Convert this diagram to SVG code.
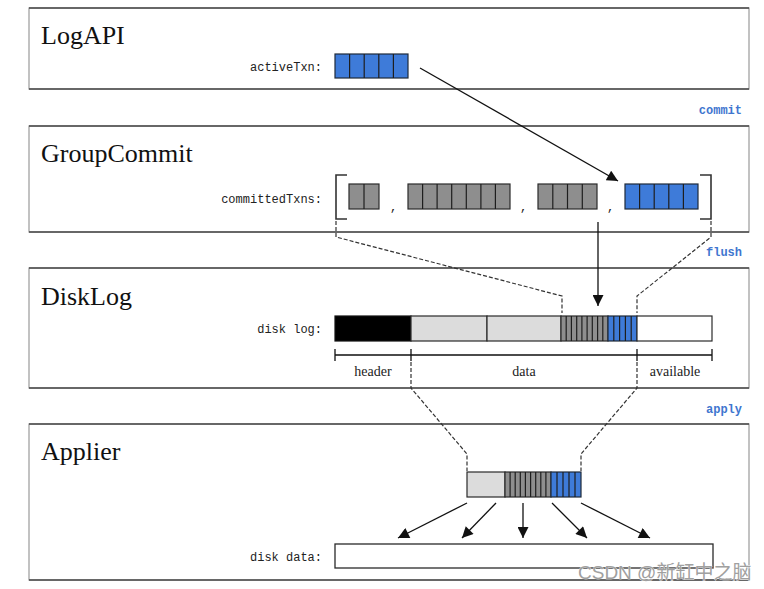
<svg xmlns="http://www.w3.org/2000/svg" width="764" height="589" viewBox="0 0 764 589">
<style>
.panel{fill:#fff;stroke:#9a9a9a;stroke-width:1.2}
.edge{stroke:#4a4a4a;stroke-width:1.6}
.title{font-family:"Liberation Serif",serif;font-size:26px;fill:#111}
.mono{font-family:"Liberation Mono",monospace;font-size:12px;fill:#222}
.step{font-family:"Liberation Mono",monospace;font-size:12px;font-weight:bold;fill:#3f76cf}
.lab{font-family:"Liberation Serif",serif;font-size:14px;fill:#222}
.blue{fill:#3e7bd9;stroke:#1f2a3a;stroke-width:1.2}
.gray{fill:#8e8e8e;stroke:#2a2a2a;stroke-width:1.2}
.light{fill:#dcdcdc;stroke:#2a2a2a;stroke-width:1.2}
.cell{stroke:#1e1e1e;stroke-width:1.2}
.solid{fill:none;stroke:#111;stroke-width:1.3}
.dash{fill:none;stroke:#333;stroke-width:1.2;stroke-dasharray:4,2}
.bracket{fill:none;stroke:#333;stroke-width:1.6}
</style>
<defs>
<marker id="ah2" viewBox="0 0 10 10" refX="10" refY="5" markerWidth="13" markerHeight="11" markerUnits="userSpaceOnUse" orient="auto">
<path d="M0,0 L10,5 L0,10 z" fill="#111"/>
</marker>
</defs>
<rect width="764" height="589" fill="#fff"/>

<g id="logapi">
<rect class="panel" x="29" y="8" width="720" height="81"/>
<path class="edge" d="M29,8H749M29,89H749"/>
<text class="title" x="41" y="44">LogAPI</text>
<text class="mono" x="322" y="71" text-anchor="end">activeTxn:</text>
<rect class="blue" x="335" y="54" width="73" height="24"/>
<path class="cell" d="M349.6,54V78M364.2,54V78M378.8,54V78M393.4,54V78"/>
</g>

<text class="step" x="742" y="114" text-anchor="end">commit</text>

<g id="groupcommit">
<rect class="panel" x="29" y="126" width="720" height="106"/>
<path class="edge" d="M29,126H749M29,232H749"/>
<text class="title" x="41" y="162">GroupCommit</text>
<text class="mono" x="322" y="203" text-anchor="end">committedTxns:</text>
<path class="bracket" d="M347,175H336V219H347"/>
<path class="bracket" d="M700,175H711V219H700"/>
<rect class="gray" x="349" y="184" width="30" height="25"/>
<path class="cell" d="M364,184V209"/>
<text class="mono" x="390" y="211">,</text>
<rect class="gray" x="408" y="184" width="102" height="25"/>
<path class="cell" d="M422.6,184V209M437.1,184V209M451.7,184V209M466.3,184V209M480.9,184V209M495.4,184V209"/>
<text class="mono" x="520" y="211">,</text>
<rect class="gray" x="538" y="184" width="59" height="25"/>
<path class="cell" d="M552.8,184V209M567.5,184V209M582.3,184V209"/>
<text class="mono" x="607" y="211">,</text>
<rect class="blue" x="625" y="184" width="73" height="25"/>
<path class="cell" d="M639.6,184V209M654.2,184V209M668.8,184V209M683.4,184V209"/>
</g>

<text class="step" x="742" y="256" text-anchor="end">flush</text>

<g id="disklog">
<rect class="panel" x="29" y="268" width="720" height="120"/>
<path class="edge" d="M29,268H749M29,388H749"/>
<text class="title" x="41" y="305">DiskLog</text>
<text class="mono" x="322" y="333" text-anchor="end">disk log:</text>
<rect x="335" y="316" width="76" height="25" fill="#000" stroke="#111" stroke-width="1.2"/>
<rect class="light" x="411" y="316" width="76" height="25"/>
<rect class="light" x="487" y="316" width="74" height="25"/>
<rect class="gray" x="561" y="316" width="47" height="25"/>
<path class="cell" d="M566.2,316V341M571.4,316V341M576.7,316V341M581.9,316V341M587.1,316V341M592.3,316V341M597.6,316V341M602.8,316V341"/>
<rect class="blue" x="608" y="316" width="29" height="25"/>
<path class="cell" d="M613.8,316V341M619.6,316V341M625.4,316V341M631.2,316V341"/>
<rect x="637" y="316" width="75" height="25" fill="#fff" stroke="#2a2a2a" stroke-width="1.2"/>
<path class="solid" d="M335,355H712M335,349V361M411,349V361M637,349V361M712,349V361"/>
<text class="lab" x="373" y="376" text-anchor="middle">header</text>
<text class="lab" x="524" y="376" text-anchor="middle">data</text>
<text class="lab" x="675" y="376" text-anchor="middle">available</text>
</g>

<text class="step" x="742" y="413" text-anchor="end">apply</text>

<g id="applier">
<rect class="panel" x="29" y="424" width="720" height="156"/>
<path class="edge" d="M29,424H749M29,580H749"/>
<text class="title" x="41" y="460">Applier</text>
<rect class="light" x="467" y="472" width="38" height="25"/>
<rect class="gray" x="505" y="472" width="46" height="25"/>
<path class="cell" d="M510.1,472V497M515.2,472V497M520.3,472V497M525.4,472V497M530.6,472V497M535.7,472V497M540.8,472V497M545.9,472V497"/>
<rect class="blue" x="551" y="472" width="30" height="25"/>
<path class="cell" d="M557,472V497M563,472V497M569,472V497M575,472V497"/>
<text class="mono" x="322" y="561" text-anchor="end">disk data:</text>
<rect x="335" y="544" width="378" height="24" fill="#fff" stroke="#2a2a2a" stroke-width="1.3"/>
</g>

<g id="connectors">
<line class="solid" x1="420" y1="68" x2="618" y2="181" marker-end="url(#ah2)"/>
<line class="solid" x1="598" y1="222" x2="598" y2="306" marker-end="url(#ah2)"/>
<path class="dash" d="M336,221V237L562,296V313"/>
<path class="dash" d="M711,221V237L637,296V313"/>
<path class="dash" d="M411,362V388L467,454V471"/>
<path class="dash" d="M637,362V388L581,454V471"/>
<line class="solid" x1="467" y1="503" x2="398" y2="538" marker-end="url(#ah2)"/>
<line class="solid" x1="496" y1="503" x2="462" y2="538" marker-end="url(#ah2)"/>
<line class="solid" x1="523" y1="503" x2="523" y2="538" marker-end="url(#ah2)"/>
<line class="solid" x1="552" y1="503" x2="587" y2="538" marker-end="url(#ah2)"/>
<line class="solid" x1="581" y1="503" x2="650" y2="538" marker-end="url(#ah2)"/>
</g>

<text x="578" y="579" font-family="'Liberation Sans','Noto Sans CJK SC',sans-serif" font-size="19" fill="#a0a0a0" stroke="#fff" stroke-width="0.6" paint-order="stroke">CSDN @新缸中之脑</text>
</svg>
